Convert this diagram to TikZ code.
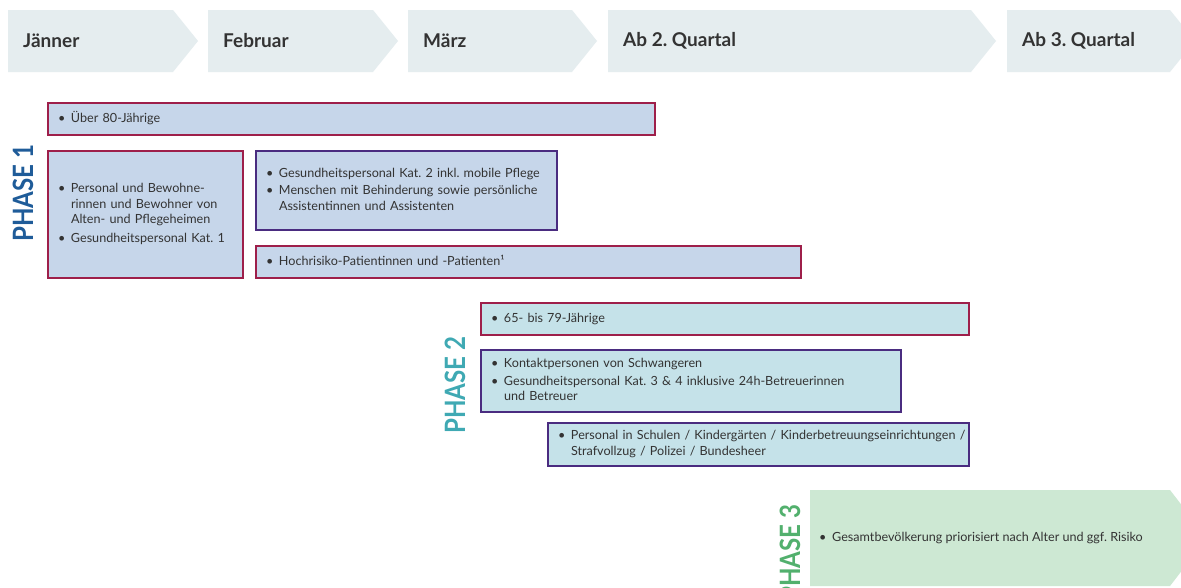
\documentclass[tikz,border=0pt]{standalone}
\usepackage{fontspec}
\setmainfont{Lato}
\usepackage{tikz}
\usetikzlibrary{calc}
\frenchspacing

\definecolor{hdrfill}{HTML}{E5EDEF}
\definecolor{fillone}{HTML}{C6D6EA}
\definecolor{filltwo}{HTML}{C5E2E9}
\definecolor{fillthree}{HTML}{CDE8D3}
\definecolor{titleone}{HTML}{1F5C99}
\definecolor{titletwo}{HTML}{3FA9B3}
\definecolor{titlethree}{HTML}{52B06D}
\definecolor{redline}{HTML}{9E1F4A}
\definecolor{violetline}{HTML}{4A2C80}
\definecolor{txt}{HTML}{333333}

\newcommand{\itm}[1]{\makebox[13pt][l]{\textbullet}\begin{tabular}[t]{@{}l@{}}#1\end{tabular}}

\begin{document}
\begin{tikzpicture}[x=1pt,y=-1pt,
      hdrtext/.style={font=\fontsize{19}{22}\selectfont\bfseries, text=txt, anchor=west, inner sep=0pt},
      box/.style={draw, line width=1.6pt, anchor=north west, outer sep=0pt,
        inner xsep=10pt, inner ysep=0pt, align=left, text=txt,
        font=\fontsize{12.6}{15.5}\selectfont},
      red edge/.style={draw=redline},
      violet edge/.style={draw=violetline},
      phase title/.style={rotate=90, xscale=0.86, inner sep=0pt,
        font=\fontsize{28}{28}\selectfont\bfseries}]

      \useasboundingbox (0,0) rectangle (1181,587);
      \clip (0,0) rectangle (1181,587);
      \fill[white] (0,0) rectangle (1181,587);

      \foreach \xa/\xb/\lbl [count=\i] in {8/173/Jänner, 208/373/Februar, 408/572/März,
          608/971/Ab 2. Quartal, 1007/1170/Ab 3. Quartal}{
        \fill[hdrfill] (\xa,10) -- (\xb,10) -- ++(25,31) -- (\xb,72) -- (\xa,72) -- cycle;
        \node[hdrtext] (month\i) at (\xa+15,41) {\lbl};
      }

      \node[phase title, text=titleone] (phaseone) at (23,193) {PHASE 1};
      \node[box, red edge, fill=fillone, text width=587pt, minimum height=32pt]
        (ueber80) at (48,103) {\itm{Über 80-Jährige}};
      \node[box, red edge, fill=fillone, text width=175pt, minimum height=127pt]
        (heime) at (48,151) {\itm{Personal und Bewohne-\\rinnen und Bewohner von\\Alten- und Pflegeheimen}\\[2pt]
          \itm{Gesundheitspersonal Kat. 1}};
      \node[box, violet edge, fill=fillone, text width=281pt, minimum height=79pt]
        (katzwei) at (256,151) {\itm{Gesundheitspersonal Kat. 2 inkl. mobile Pflege}\\[2pt]
          \itm{Menschen mit Behinderung sowie persönliche\\Assistentinnen und Assistenten}};
      \node[box, red edge, fill=fillone, text width=525pt, minimum height=32pt]
        (risiko) at (256,246) {\itm{Hochrisiko-Patientinnen und -Patienten¹}};

      \node[phase title, text=titletwo] (phasetwo) at (455,385) {PHASE 2};
      \node[box, red edge, fill=filltwo, text width=468pt, minimum height=32pt]
        (alter) at (481,303) {\itm{65- bis 79-Jährige}};
      \node[box, violet edge, fill=filltwo, text width=400pt, minimum height=62pt]
        (kontakt) at (481,350) {\itm{Kontaktpersonen von Schwangeren}\\[2pt]
          \itm{Gesundheitspersonal Kat. 3 \& 4 inklusive 24h-Betreuerinnen\\und Betreuer}};
      \node[box, violet edge, fill=filltwo, text width=401pt, minimum height=43pt]
        (schulen) at (548,423) {\itm{Personal in Schulen / Kindergärten / Kinderbetreuungseinrichtungen /\\Strafvollzug / Polizei / Bundesheer}};

      \node[phase title, text=titlethree] (phasethree) at (790,553) {PHASE 3};
      \fill[fillthree] (810,490) -- (1170,490) -- (1207,538) -- (1170,586) -- (810,586) -- cycle;
      \node[anchor=west, inner sep=0pt, text=txt, font=\fontsize{12.6}{15.5}\selectfont]
        (gesamt) at (819,538) {\itm{Gesamtbevölkerung priorisiert nach Alter und ggf. Risiko}};
\end{tikzpicture}
\end{document}
